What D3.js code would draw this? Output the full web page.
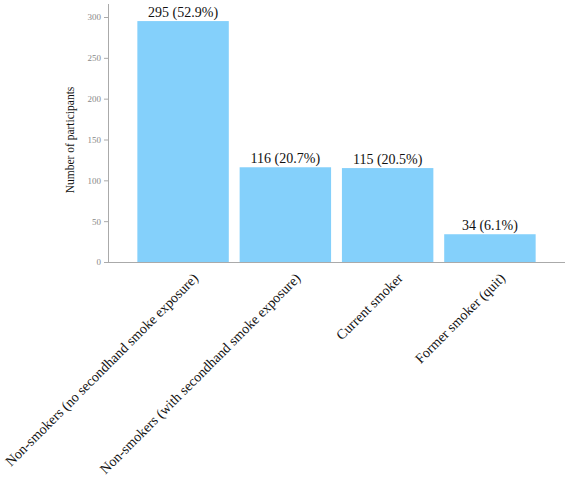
<!DOCTYPE html>
<html><head><meta charset="utf-8">
<script src="https://cdn.jsdelivr.net/npm/d3@7"></script>
<style>body{margin:0;background:#fff}svg{display:block}text{font-family:"Liberation Serif",serif}</style>
</head><body>
<svg id="c" width="567" height="480"></svg>
<script>
const categories = ["Non-smokers (no secondhand smoke exposure)", "Non-smokers (with secondhand smoke exposure)", "Current smoker", "Former smoker (quit)"];
const counts = [295, 116, 115, 34];
const percents = ["52.9%", "20.7%", "20.5%", "6.1%"];
const yTicks = [0, 50, 100, 150, 200, 250, 300];

const svg = d3.select("#c");
const x = d3.scaleBand().domain(categories).range([108, 565]).paddingInner(0.106).paddingOuter(0.287);
const y = d3.scaleLinear().domain([0, 300]).range([262, 17]);

// y axis
const ya = svg.append("g").attr("transform", "translate(108,0)")
  .call(d3.axisLeft(y).tickValues(yTicks).tickSize(4).tickPadding(3));
ya.attr("font-family", null);
ya.select(".domain").remove();
ya.selectAll(".tick line").attr("stroke", "#aaa");
ya.selectAll(".tick text").attr("fill", "#888").attr("font-size", 9);
svg.append("line").attr("x1", 108.5).attr("x2", 108.5).attr("y1", 4).attr("y2", 262).attr("stroke", "#aaa");
svg.append("line").attr("x1", 104).attr("x2", 565).attr("y1", 262.5).attr("y2", 262.5).attr("stroke", "#aaa");

// bars
svg.append("g").selectAll("rect").data(categories).join("rect")
  .attr("x", d => x(d)).attr("width", x.bandwidth())
  .attr("y", (d, i) => y(counts[i])).attr("height", (d, i) => y(0) - y(counts[i]))
  .attr("fill", "#84d0fb");

// value labels
svg.append("g").selectAll("text").data(categories).join("text")
  .attr("x", d => x(d) + x.bandwidth() / 2)
  .attr("y", (d, i) => y(counts[i]) - 4)
  .attr("text-anchor", "middle").attr("font-size", 14).attr("fill", "#111")
  .text((d, i) => `${counts[i]} (${percents[i]})`);

// x labels
svg.append("g").selectAll("text").data(categories).join("text")
  .attr("transform", d => `translate(${x(d) + x.bandwidth() / 2 + 16},${279}) rotate(-45)`)
  .attr("text-anchor", "end").attr("font-size", 14).attr("fill", "#111")
  .text(d => d);

// y title
svg.append("text").attr("transform", "translate(74,140) rotate(-90)")
  .attr("text-anchor", "middle").attr("font-size", 11.5).attr("fill", "#111")
  .text("Number of participants");
</script>
</body></html>
